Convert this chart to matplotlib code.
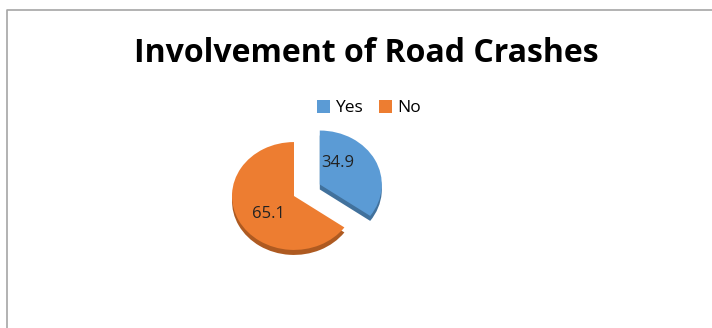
import matplotlib
matplotlib.use('Agg')
import matplotlib.pyplot as plt
from matplotlib.lines import Line2D
from matplotlib.patches import Patch

# Road crash involvement, percent of respondents
categories = ['Yes', 'No']
values = [34.9, 65.1]
colors = ['#5B9BD5', '#ED7D31']
side_colors = ['#41719C', '#AE5A21']

W, H = 712, 328
SQUASH = 0.87     # flattening of the pie for a tilted look
DEPTH = 5         # thickness of the pie side, px
FONT = ['Open Sans', 'DejaVu Sans']

fig = plt.figure(figsize=(W / 100, H / 100), dpi=100)
ax = fig.add_axes([0, 0, 1, 1])

cx, cy = 294, (H - 196) / SQUASH
radius = 62
explode = [29, 0]   # pulled-out distance of each slice, in data units

# side of the pie first, shifted down a little
ax.pie(values, colors=side_colors, startangle=90, counterclock=False,
       explode=explode, radius=radius, center=(cx, cy - DEPTH / SQUASH),
       frame=True)
wedges, _, autotexts = ax.pie(values, colors=colors, startangle=90, counterclock=False,
                              explode=explode, radius=radius, center=(cx, cy),
                              frame=True, autopct='%.1f', pctdistance=0.5,
                              textprops=dict(fontsize=12, color='#222222', family=FONT))
ax.set_xlim(0, W)
ax.set_ylim(0, H / SQUASH)
ax.set_aspect('auto')
ax.axis('off')

# value labels
label_px = [(338, 163), (268, 214)]
for t, (px, py) in zip(autotexts, label_px):
    t.set_position((px, (H - py) / SQUASH))
    t.set_ha('center')
    t.set_va('center')

fig.text(366 / W, 1 - 54 / H, 'Involvement of Road Crashes', ha='center', va='center',
         fontsize=23, fontweight='bold', family=FONT)

handles = [Patch(facecolor=c, edgecolor='none') for c in colors]
fig.legend(handles, categories, loc='center', bbox_to_anchor=(369 / W, 1 - 108 / H),
           ncol=2, frameon=False, handlelength=0.75, handleheight=0.75,
           handletextpad=0.3, columnspacing=0.9,
           prop=dict(family=FONT, size=12.5))

# chart area border (top and left edges visible)
fig.add_artist(Line2D([7 / W, 7 / W, 1], [0, 1 - 10 / H, 1 - 10 / H],
                      color='#a6a6a6', lw=1.2))

fig.savefig('out.png', dpi=100)
